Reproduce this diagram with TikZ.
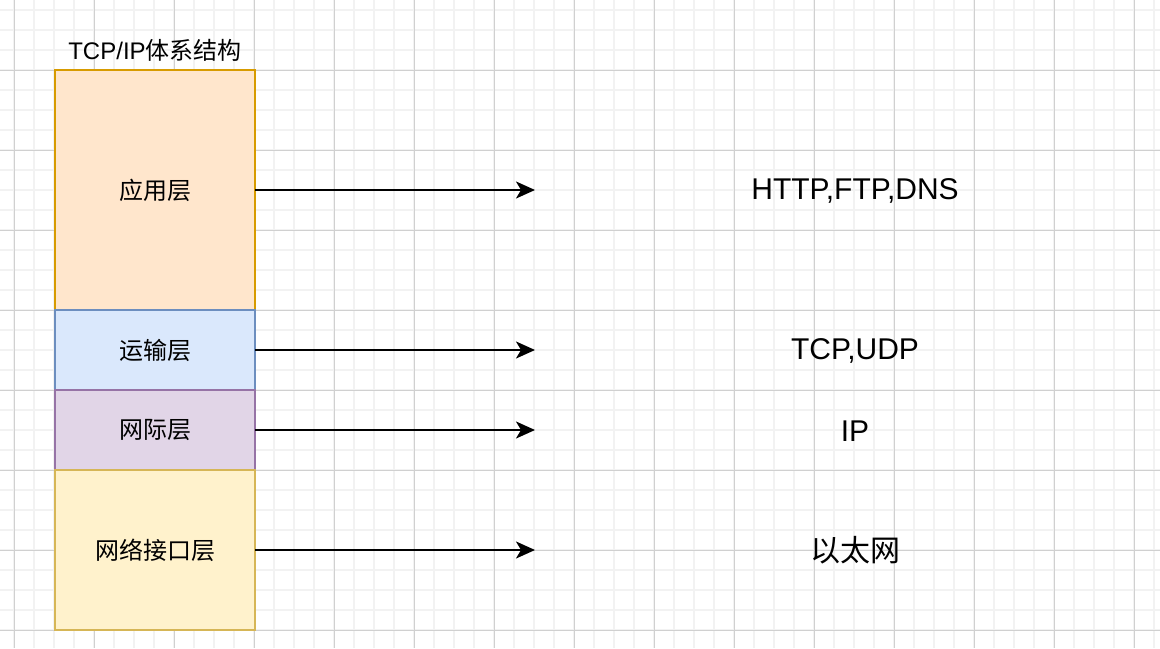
\documentclass[tikz,border=0pt]{standalone}
\usepackage{fontspec}
\setmainfont{Liberation Sans}
\newfontfamily\cjk{Noto Sans CJK SC}
\usetikzlibrary{positioning}
\usetikzlibrary{arrows.meta}
\definecolor{appfill}{HTML}{FFE6CC}
\definecolor{appline}{HTML}{D79B00}
\definecolor{tranfill}{HTML}{DAE8FC}
\definecolor{tranline}{HTML}{6C8EBF}
\definecolor{netfill}{HTML}{E1D5E7}
\definecolor{netline}{HTML}{9673A6}
\definecolor{linkfill}{HTML}{FFF2CC}
\definecolor{linkline}{HTML}{D6B656}
\definecolor{minorgrid}{HTML}{F2F2F2}
\definecolor{majorgrid}{HTML}{D0D0D0}
\tikzset{
  layer/.style = {draw, rectangle, line width=1pt, outer sep=0pt, inner sep=0pt,
    minimum width=100pt, font=\cjk\fontsize{12}{14}\selectfont},
  proto/.style = {font=\fontsize{15}{18}\selectfont},
  arrow line/.style = {-{Stealth[length=9.5pt, width=8.5pt, inset=2.5pt]}, line width=1pt}
}

\begin{document}
\begin{tikzpicture}[x=0.5pt, y=-0.5pt]
\useasboundingbox (0,0) rectangle (1160,648);
\fill[white] (0,0) rectangle (1160,648);
% background grid
\foreach \x in {14,34,...,1154}
  \draw[minorgrid, line width=1pt] (\x,0) -- (\x,648);
\foreach \y in {10,30,...,648}
  \draw[minorgrid, line width=1pt] (0,\y) -- (1160,\y);
\foreach \x in {14,94,...,1154}
  \draw[majorgrid, line width=0.5pt] (\x,0) -- (\x,648);
\foreach \y in {70,150,...,648}
  \draw[majorgrid, line width=0.5pt] (0,\y) -- (1160,\y);

% layers
\node[layer, fill=appfill, draw=appline, minimum height=120pt, anchor=north west]
  (app) at (55,70) {应用层};
\node[layer, fill=tranfill, draw=tranline, minimum height=40pt, below=0pt of app]
  (tran) {运输层};
\node[layer, fill=netfill, draw=netline, minimum height=40pt, below=0pt of tran]
  (net) {网际层};
\node[layer, fill=linkfill, draw=linkline, minimum height=80pt, below=0pt of net]
  (link) {网络接口层};
\node[above=4pt of app, inner sep=0pt, font=\fontsize{12}{14}\selectfont]
  (title) {TCP/IP{\cjk 体系结构}};

% protocols
\node[proto] (appproto) at (855,191) {HTTP,FTP,DNS};
\node[proto] (tranproto) at (855,351) {TCP,UDP};
\node[proto] (netproto) at (855,431) {IP};
\node[proto, font=\cjk\fontsize{15}{18}\selectfont] (linkproto) at (855,550) {以太网};

\coordinate (append) at (535,190);
\coordinate (tranend) at (535,350);
\coordinate (netend) at (535,430);
\coordinate (linkend) at (535,550);
\draw[arrow line] (app) -- (append);
\draw[arrow line] (tran) -- (tranend);
\draw[arrow line] (net) -- (netend);
\draw[arrow line] (link) -- (linkend);
\end{tikzpicture}
\end{document}
